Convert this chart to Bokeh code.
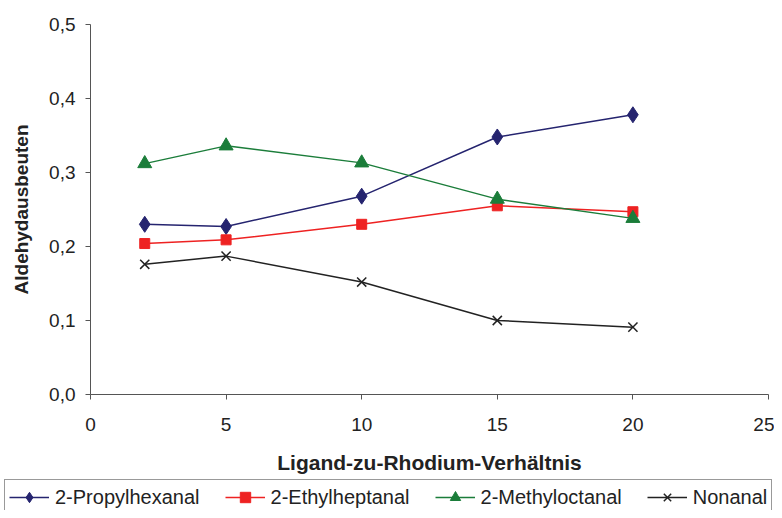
from bokeh.plotting import figure
from bokeh.models import FixedTicker, CustomJSTickFormatter, Legend, LegendItem, Range1d
from bokeh.embed import file_html
from bokeh.resources import INLINE

ratio = [2, 5, 10, 15, 20]
propylhexanal = [0.230, 0.227, 0.268, 0.348, 0.378]
ethylheptanal = [0.204, 0.209, 0.230, 0.255, 0.247]
methyloctanal = [0.312, 0.336, 0.313, 0.264, 0.238]
nonanal = [0.176, 0.187, 0.152, 0.100, 0.091]
names = ["2-Propylhexanal", "2-Ethylheptanal", "2-Methyloctanal", "Nonanal"]
x_ticks = [0, 5, 10, 15, 20, 25]
y_ticks = [0.0, 0.1, 0.2, 0.3, 0.4, 0.5]
x_lo, x_hi = 0, 25
y_lo, y_hi = 0.0, 0.5

FONT = "Liberation Sans"

# layout in pixels: the plotting area, inside a 774 x 510 canvas
W, H = 774, 510
AX_L, AX_R, AX_T, AX_B = 90, 768, 24, 394
sx = (x_hi - x_lo) / (AX_R - AX_L)
sy = (y_hi - y_lo) / (AX_B - AX_T)

p = figure(width=W, height=H, output_backend="svg", toolbar_location=None,
           x_range=Range1d(x_lo - AX_L * sx, x_hi + (W - AX_R) * sx),
           y_range=Range1d(y_lo - (H - AX_B) * sy, y_hi + AX_T * sy),
           min_border_left=0, min_border_right=0, min_border_top=0, min_border_bottom=0)
p.outline_line_color = None
p.xgrid.visible = False
p.ygrid.visible = False

series = [
    (propylhexanal, "#25246F", "diamond", 16),
    (ethylheptanal, "#EE2222", "square", 10),
    (methyloctanal, "#1B7D3A", "triangle", 14),
    (nonanal, "#222222", "x", 13),
]

items = []
for (vals, color, marker, size), name in zip(series, names):
    r1 = p.line(ratio, vals, line_color=color, line_width=1.5)
    if marker == "x":
        r2 = p.scatter(ratio, vals, marker=marker, size=size, line_color=color, line_width=1.5)
    else:
        r2 = p.scatter(ratio, vals, marker=marker, size=size, fill_color=color, line_color=color)
    items.append(LegendItem(label=name, renderers=[r1, r2]))

for ax in (p.xaxis[0], p.yaxis[0]):
    ax.axis_line_color = "#555555"
    ax.major_tick_line_color = "#555555"
    ax.minor_tick_line_color = None
    ax.major_tick_in = 0
    ax.major_tick_out = 5
    ax.major_label_text_font = FONT
    ax.major_label_text_font_size = "19px"
    ax.major_label_text_color = "#222222"
    ax.axis_label_text_font = FONT
    ax.axis_label_text_font_style = "bold"
    ax.axis_label_text_color = "#222222"

p.xaxis.fixed_location = y_lo
p.yaxis.fixed_location = x_lo
p.xaxis.bounds = (x_lo, x_hi)
p.yaxis.bounds = (y_lo, y_hi)
p.xaxis.axis_label_text_font_size = "21px"
p.yaxis.axis_label_text_font_size = "19px"
p.xaxis.ticker = FixedTicker(ticks=x_ticks)
p.yaxis.ticker = FixedTicker(ticks=y_ticks)
p.yaxis.formatter = CustomJSTickFormatter(code="return tick.toFixed(1).replace('.', ',');")
p.xaxis.axis_label = "Ligand-zu-Rhodium-Verhältnis"
p.yaxis.axis_label = "Aldehydausbeuten"
p.xaxis.major_label_standoff = 18
p.xaxis.axis_label_standoff = 17
p.yaxis.major_label_standoff = 10
p.yaxis.axis_label_standoff = 14

legend = Legend(items=items, orientation="horizontal", location=(4, -5),
                label_text_font=FONT, label_text_font_size="20px", label_text_color="#222222",
                glyph_width=40, glyph_height=26, spacing=25, padding=4, margin=0,
                label_standoff=6, border_line_color="#333333", border_line_width=1,
                background_fill_alpha=1)
p.add_layout(legend, "center")

open("out.html", "w").write(file_html(p, INLINE))
